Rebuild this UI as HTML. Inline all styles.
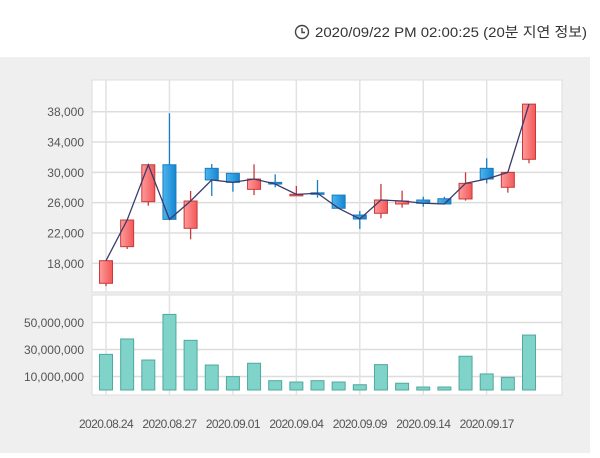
<!DOCTYPE html>
<html><head><meta charset="utf-8"><style>
body{margin:0;width:600px;height:453px;background:#fff;overflow:hidden;font-family:"Liberation Sans","Noto Sans CJK KR",sans-serif}
</style></head><body>
<svg id="c" width="600" height="453" xmlns="http://www.w3.org/2000/svg">
<defs>
<linearGradient id="gu" x1="0" x2="1"><stop offset="0" stop-color="#ff9a9a"/><stop offset="1" stop-color="#f25858"/></linearGradient>
<linearGradient id="gd" x1="0" x2="1"><stop offset="0" stop-color="#4db5ee"/><stop offset="1" stop-color="#1586d0"/></linearGradient>
</defs>
<g>
<circle cx="302" cy="32" r="6.5" fill="none" stroke="#444" stroke-width="1.4"/>
<path d="M302 28v4.5h3" fill="none" stroke="#444" stroke-width="1.4"/>
<text x="315" y="37" font-size="14" fill="#333" textLength="272" lengthAdjust="spacingAndGlyphs">2020/09/22 PM 02:00:25 (20분 지연 정보)</text>
</g>
<rect x="0" y="57" width="590" height="396" fill="#efefef"/>
<rect x="92" y="80" width="470" height="212" fill="#fff" stroke="#ddd"/>
<rect x="92" y="295" width="470" height="100" fill="#fff" stroke="#ddd"/>
<g id="g"></g>
</svg>
<script>
const dates=["2020.08.24","2020.08.25","2020.08.26","2020.08.27","2020.08.28","2020.08.31","2020.09.01","2020.09.02","2020.09.03","2020.09.04","2020.09.07","2020.09.08","2020.09.09","2020.09.10","2020.09.11","2020.09.14","2020.09.15","2020.09.16","2020.09.17","2020.09.18","2020.09.21"];
const opens=[15366,20200,26130,31000,22620,30530,29870,27760,28680,27000,27300,27000,24370,24600,25830,26350,26520,26490,30530,28030,31720];
const highs=[18347,23715,31000,37800,27540,31100,29870,31060,29740,28200,29000,27000,24900,28460,27580,26790,26790,30000,31850,30000,39000];
const lows=[15000,19890,25600,23800,21170,26880,27450,27000,28030,27000,26660,25260,22530,23940,25340,25470,25830,26270,28550,27320,31200];
const closes=[18347,23715,31000,23800,26220,29000,28680,29120,28460,27100,27240,25260,23850,26350,26220,25920,25830,28550,29120,30000,39000];
const volumes=[26.4e6,37.8e6,22.2e6,56e6,36.8e6,18.5e6,9.9e6,19.8e6,6.9e6,5.9e6,6.9e6,5.9e6,3.9e6,18.8e6,5e6,2.2e6,2.2e6,25e6,11.9e6,9.4e6,40.7e6];
const priceTicks=[18000,22000,26000,30000,34000,38000];
const volTicks=[10000000,30000000,50000000];
const dateLabelIdx=[0,3,6,9,12,15,18];

const X=i=>106+i*21.15;
const PY=p=>111.7+(38000-p)/131.9;
const VY=v=>390-v/20e6*27;
const g=document.getElementById('g');
const NS='http://www.w3.org/2000/svg';
function mk(t,a){const e=document.createElementNS(NS,t);for(const k in a)e.setAttribute(k,a[k]);g.appendChild(e);return e;}
const fmt=n=>n.toLocaleString('en-US');

priceTicks.forEach(t=>{
  const l=mk('line',{x1:92,x2:562,y1:PY(t),y2:PY(t),stroke:'#ddd','stroke-width':1.5});
  
  
  const tx=mk('text',{x:84,y:PY(t)+4.5,'font-size':12,fill:'#555','text-anchor':'end'});
  tx.textContent=fmt(t);
  
  
});
volTicks.forEach(t=>{
  const l=mk('line',{x1:92,x2:562,y1:VY(t),y2:VY(t),stroke:'#ddd','stroke-width':1.5});
  
  
  const tx=mk('text',{x:84,y:VY(t)+4.5,'font-size':12,fill:'#555','text-anchor':'end'});
  tx.textContent=fmt(t);
  
  
});
dateLabelIdx.forEach(i=>{
  const l=mk('line',{x1:X(i),x2:X(i),y1:80,y2:292,stroke:'#e2e2e2','stroke-width':1.5});
  
  
  const l2=mk('line',{x1:X(i),x2:X(i),y1:295,y2:395,stroke:'#e2e2e2','stroke-width':1.5});
  
  
  const tx=mk('text',{x:X(i),y:428,'font-size':12,fill:'#555','text-anchor':'middle','letter-spacing':'-0.6'});
  tx.textContent=dates[i];
  
  
});
dates.forEach((d,i)=>{
  const up=closes[i]>=opens[i];
  const x=X(i);
  const w=mk('line',{x1:x,x2:x,y1:PY(highs[i]),y2:PY(lows[i]),stroke:up?'#c83a3a':'#1a7cc0','stroke-width':1.3});
  
  
  const top=PY(Math.max(opens[i],closes[i])),bot=PY(Math.min(opens[i],closes[i]));
  const b=mk('rect',{x:x-6.5,y:top,width:13,height:Math.max(1.5,bot-top),fill:up?'url(#gu)':'url(#gd)',stroke:up?'#c83a3a':'#1a7cc0','stroke-width':1});
  
  
  const v=mk('rect',{x:x-6.5,y:VY(volumes[i]),width:13,height:390-VY(volumes[i]),fill:'#7fd3c8',stroke:'#4fa99e','stroke-width':1});
  
  
});
const pl=mk('polyline',{points:closes.map((c,i)=>X(i)+','+PY(c)).join(' '),fill:'none',stroke:'#3b3b6b','stroke-width':1.3});


</script>
</body></html>
